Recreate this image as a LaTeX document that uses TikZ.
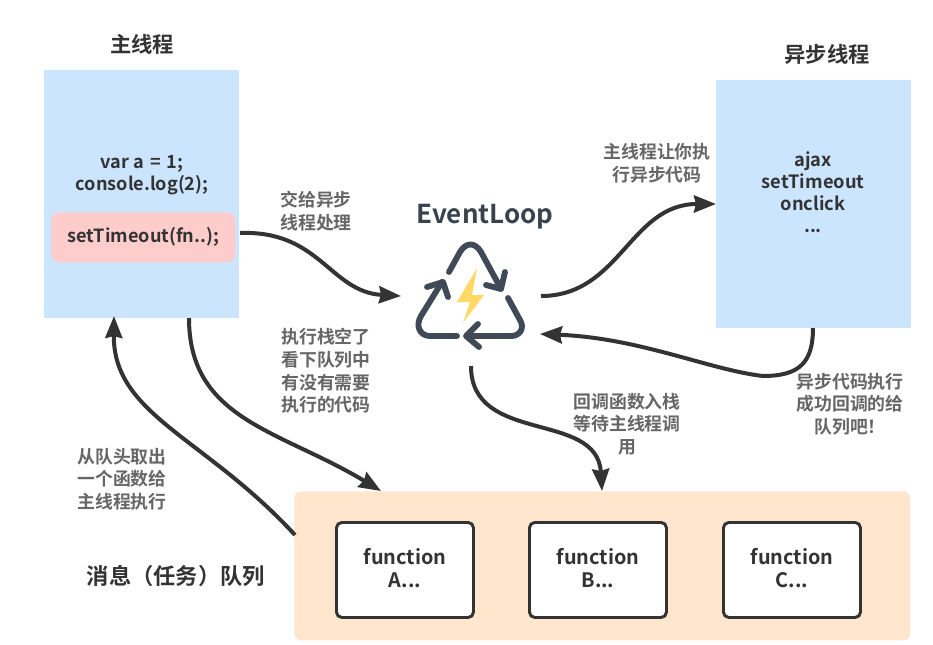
\documentclass[tikz,border=0pt]{standalone}
\usepackage{fontspec}
\setmainfont{Noto Sans CJK SC}[BoldFont=* Bold]
\usetikzlibrary{arrows.meta}
\definecolor{ink}{HTML}{333333}
\definecolor{note}{HTML}{666666}
\definecolor{threadblue}{HTML}{CCE5FF}
\definecolor{alertred}{HTML}{FFCCCC}
\definecolor{queuepeach}{HTML}{FFE6CC}
\definecolor{slate}{HTML}{3F4A56}
\definecolor{bolt}{HTML}{FFD966}
\def\pxu{*0.75pt}
\tikzset{
  panel/.style={draw=none,fill=threadblue,minimum width=195\pxu,minimum height=248\pxu,inner sep=0pt},
  heading/.style={font=\bfseries\fontsize{16}{19}\selectfont,text=ink},
  codetext/.style={font=\bfseries\fontsize{13.6}{16.8}\selectfont,text=ink,align=center},
  notetext/.style={font=\bfseries\fontsize{13.4}{17}\selectfont,text=note,align=center},
  funcbox/.style={draw=ink,line width=2.2pt,fill=white,rounded corners=4pt,minimum width=137\pxu,minimum height=95\pxu,inner sep=0pt,
    font=\bfseries\fontsize{14.9}{17.5}\selectfont,text=ink,align=center,text depth=3pt},
  flow/.style={draw=ink,line width=3pt,-{Stealth[length=22\pxu,width=17\pxu,inset=2\pxu]}},
  cycle/.style={draw=slate,line width=4.4pt,line cap=round,line join=round},
}
\begin{document}
\begin{tikzpicture}[x=0.75pt,y=-0.75pt]
\useasboundingbox (0,0) rectangle (933,644);

% thread panels
\node[panel,anchor=north west] (main) at (44,70) {};
\node[panel,anchor=north west] (async) at (716,80) {};
\node[heading] (mainhead) at (142,44) {主线程};
\node[heading] (asynchead) at (827,54) {异步线程};
\node[codetext] (mainvars) at (142,175) {var a\,\,=\,\,1;\\console.log(2);};
\node[draw=none,fill=alertred,rounded corners=6pt,minimum width=184\pxu,minimum height=50\pxu,inner sep=0pt,codetext,anchor=north west] (timer) at (51,212) {setTimeout(fn..);};
\node[codetext,font=\bfseries\fontsize{13.7}{16.6}\selectfont] (apis) at (813,192) {ajax\\setTimeout\\onclick\\...};

% message queue
\node[draw=none,fill=queuepeach,rounded corners=5pt,minimum width=616\pxu,minimum height=149\pxu,inner sep=0pt,anchor=north west] (queue) at (294,491) {};
\node[funcbox,anchor=north west] (fa) at (335,521) {function\\A...};
\node[funcbox,anchor=north west] (fb) at (528,521) {function\\B...};
\node[funcbox,anchor=north west] (fc) at (722,521) {function\\C...};
\node[font=\bfseries\fontsize{16.7}{20}\selectfont,text=ink] (queuelabel) at (176,576) {消息（任务）队列};

% event loop emblem
\node[font=\bfseries\fontsize{19.5}{24}\selectfont,text=slate!90!black] (looptitle) at (485,217) {EventLoop};
\fill[bolt] (477,268) -- (457,302) -- (470,302) -- (463,323) -- (484,295) -- (472,295) -- cycle;
\draw[cycle] (449,272) -- (460,252) .. controls (466,242) and (475,242) .. (481,252) -- (500,287);
\draw[cycle] (486,285) -- (501,289) -- (505,272);
\draw[cycle] (457,336) -- (430,336) .. controls (420,336) and (415,326) .. (421,316) -- (442,282);
\draw[cycle] (427,287) -- (443,282) -- (448,297);
\draw[cycle] (508,298) -- (520,320) .. controls (525,328) and (520,336) .. (511,336) -- (467,336);
\draw[cycle] (478,324) -- (466,336) -- (479,347);

% anchor points of the connectors
\coordinate (mainout) at (240,233);
\coordinate (mainpoll) at (189,318);
\coordinate (mainin) at (114,316);
\coordinate (loopin) at (401,296);
\coordinate (loopout) at (541,296);
\coordinate (loopback) at (540,334);
\coordinate (loopdown) at (471,366);
\coordinate (asyncin) at (716,204);
\coordinate (asyncout) at (813,328);
\coordinate (asyncbend) at (763,376);
\coordinate (queuetop) at (381,491);
\coordinate (queueleft) at (295,535);
\coordinate (queuemid) at (602,491);

% connectors
\draw[flow] (mainout) .. controls (320,230) and (330,292) .. (loopin);
\draw[flow] (loopout) .. controls (620,296) and (630,204) .. (asyncin);
\draw[flow] (asyncout) .. controls (813,362) and (800,376) .. (asyncbend) .. controls (710,370) and (640,338) .. (loopback);
\draw[flow] (mainpoll) .. controls (189,420) and (280,430) .. (queuetop);
\draw[flow] (queueleft) .. controls (205,437) and (113,415) .. (mainin);
\draw[flow] (loopdown) .. controls (471,445) and (597,410) .. (queuemid);

% connector notes
\node[notetext] (n1) at (316,211) {交给异步\\线程处理};
\node[notetext] (n2) at (657,163) {主线程让你执\\行异步代码};
\node[notetext] (n3) at (850,404) {异步代码执行\\成功回调的给\\队列吧！};
\node[notetext] (n4) at (326,371) {执行栈空了\\看下队列中\\有没有需要\\执行的代码};
\node[notetext] (n5) at (627,424) {回调函数入栈\\等待主线程调\\用};
\node[notetext] (n6) at (122,479) {从队头取出\\一个函数给\\主线程执行};
\end{tikzpicture}
\end{document}
